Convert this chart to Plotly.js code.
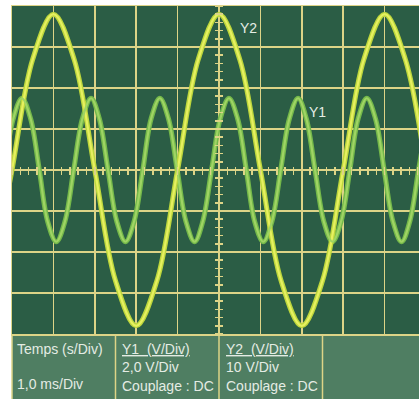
<!DOCTYPE html>
<html>
<head>
<meta charset="utf-8">
<script src="https://cdn.plot.ly/plotly-3.0.1.min.js"></script>
<style>html,body{margin:0;padding:0;background:#fff;}#chart{width:419px;height:399px;}</style>
</head>
<body>
<div id="chart"></div>
<script>
// Y1 readings (time in ms, voltage in V, 2,0 V/Div)
var y1Time = [-0.18, 0.03, 0.24, 0.45, 0.66, 0.86, 1.07, 1.28, 1.49, 1.70, 1.91, 2.11, 2.32, 2.53, 2.74, 2.95,
  3.16, 3.36, 3.57, 3.78, 3.99, 4.20, 4.41, 4.61, 4.82, 5.03, 5.24, 5.45, 5.66, 5.86, 6.07, 6.28,
  6.49, 6.70, 6.91, 7.11, 7.32, 7.53, 7.74, 7.95, 8.16, 8.36, 8.57, 8.78, 8.99, 9.20, 9.41, 9.61, 9.82, 10.03];
var y1Volt = [0, 2.5, 3.5, 2.5, 0, -2.5, -3.5, -2.5, 0, 2.5, 3.5, 2.5, 0, -2.5, -3.5, -2.5,
  0, 2.5, 3.5, 2.5, 0, -2.5, -3.5, -2.5, 0, 2.5, 3.5, 2.5, 0, -2.5, -3.5, -2.5,
  0, 2.5, 3.5, 2.5, 0, -2.5, -3.5, -2.5, 0, 2.5, 3.5, 2.5, 0, -2.5, -3.5, -2.5, 0, 2.5];
// Y2 readings (time in ms, voltage in V, 10 V/Div)
var y2Time = [-0.5, 0, 0.5, 1, 1.5, 2, 2.5, 3, 3.5, 4, 4.5, 5, 5.5, 6, 6.5, 7, 7.5, 8, 8.5, 9, 9.5, 10];
var y2Volt = [-27, 0, 27, 38, 27, 0, -27, -38, -27, 0, 27, 38, 27, 0, -27, -38, -27, 0, 27, 38, 27, 0];

var channelLabels = ["Y1", "Y2"];
var panelTexts = {
  time: ["Temps (s/Div)", "1,0 ms/Div"],
  y1: ["Y1  (V/Div)", "2,0 V/Div", "Couplage : DC"],
  y2: ["Y2  (V/Div)", "10 V/Div", "Couplage : DC"]
};

var gridCol = "#ddd487";
var txtCol = "#e4ece4";
var font = "'Liberation Sans', Arial, sans-serif";

var traces = [
  // Y1 glow on main subplot, Y1 core on x2 overlay (carries the horizontal centre ticks)
  {x: y1Time, y: y1Volt, xaxis: "x", yaxis: "y", mode: "lines", line: {color: "#74b84a", width: 5, shape: "spline"}, hoverinfo: "skip"},
  {x: y1Time, y: y1Volt, xaxis: "x2", yaxis: "y", mode: "lines", line: {color: "#9fd464", width: 2.2, shape: "spline"}, hoverinfo: "skip"},
  // Y2 on y3 overlay (carries the vertical centre ticks)
  {x: y2Time, y: y2Volt, xaxis: "x", yaxis: "y3", mode: "lines", line: {color: "#bcd63c", width: 5, shape: "spline"}, hoverinfo: "skip"},
  {x: y2Time, y: y2Volt, xaxis: "x", yaxis: "y3", mode: "lines", line: {color: "#e6f060", width: 2.2, shape: "spline"}, hoverinfo: "skip"}
];

var pyToPaper = function (py) { return (334 - py) / 328; };
var ps = 14;

function ann(text, x, py) {
  return {text: text, x: x, y: pyToPaper(py), xref: "x", yref: "paper", xanchor: "left", yanchor: "middle",
    showarrow: false, font: {family: font, size: ps, color: txtCol}};
}

var annotations = [
  {text: channelLabels[1], x: 5.72, y: 6.93, xref: "x", yref: "y", showarrow: false, font: {family: font, size: 14, color: txtCol}},
  {text: channelLabels[0], x: 7.37, y: 2.83, xref: "x", yref: "y", showarrow: false, font: {family: font, size: 14, color: txtCol}},
  ann(panelTexts.time[0], 0.08, 349),
  ann(panelTexts.time[1], 0.08, 384),
  ann("<u>" + panelTexts.y1[0] + "</u>", 2.6, 349),
  ann(panelTexts.y1[1], 2.6, 367),
  ann(panelTexts.y1[2], 2.6, 386),
  ann("<u>" + panelTexts.y2[0] + "</u>", 5.13, 349),
  ann(panelTexts.y2[1], 5.13, 367),
  ann(panelTexts.y2[2], 5.13, 386)
];

var shapes = [
  {type: "rect", xref: "paper", yref: "paper", x0: 0, x1: 1, y0: -0.2, y1: 0, fillcolor: "#4f7e62", line: {width: 0}, layer: "below"},
  {type: "line", xref: "x", yref: "paper", x0: 2.5, x1: 2.5, y0: -0.2, y1: 0, line: {color: gridCol, width: 1.5}},
  {type: "line", xref: "x", yref: "paper", x0: 5, x1: 5, y0: -0.2, y1: 0, line: {color: gridCol, width: 1.5}},
  {type: "line", xref: "x", yref: "paper", x0: 7.5, x1: 7.5, y0: -0.2, y1: 0, line: {color: gridCol, width: 1.5}},
  {type: "line", xref: "paper", yref: "paper", x0: 0, x1: 0, y0: -0.2, y1: 0, line: {color: gridCol, width: 1.5}}
];

var xr = [0, 407 / 41.4];
var cx = 5 / xr[1];
var hidden = {showgrid: false, zeroline: false, showticklabels: false, showline: false, fixedrange: true};

var layout = {
  width: 419, height: 399,
  margin: {l: 12, r: 0, t: 6, b: 65, pad: 0},
  paper_bgcolor: "#ffffff",
  plot_bgcolor: "#2b5d45",
  showlegend: false,
  xaxis: {range: xr, dtick: 1, tick0: 0, showgrid: true, gridcolor: gridCol, gridwidth: 1.5, zeroline: false,
    showticklabels: false, ticks: "", showline: true, mirror: true, linecolor: gridCol, linewidth: 1.5, fixedrange: true},
  yaxis: {range: [-8, 8], dtick: 2, tick0: 0, showgrid: true, gridcolor: gridCol, gridwidth: 1.5, zeroline: false,
    showticklabels: false, ticks: "", showline: true, linecolor: gridCol, linewidth: 1.5, fixedrange: true},
  xaxis2: Object.assign({range: xr, overlaying: "x", anchor: "free", side: "bottom", position: 0.5 + 4 / 328,
    dtick: 0.2, tick0: 0, ticks: "outside", ticklen: 8, tickwidth: 1.5, tickcolor: gridCol}, hidden),
  yaxis3: Object.assign({range: [-40, 40], overlaying: "y", anchor: "free", side: "left", position: cx + 4 / 407,
    dtick: 2, tick0: 0, ticks: "outside", ticklen: 8, tickwidth: 1.5, tickcolor: gridCol}, hidden),
  annotations: annotations,
  shapes: shapes
};

Plotly.newPlot("chart", traces, layout, {displayModeBar: false, staticPlot: true});
</script>
</body>
</html>
